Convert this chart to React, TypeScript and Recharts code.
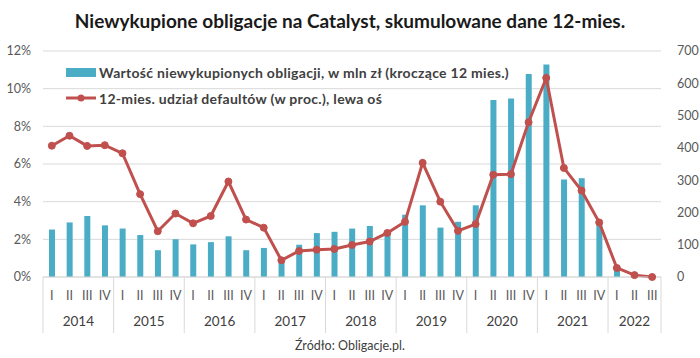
import { ComposedChart, Bar, Line, XAxis, YAxis, CartesianGrid } from 'recharts';

const years = ['2014', '2015', '2016', '2017', '2018', '2019', '2020', '2021', '2022'];
const quarterNames = ['I', 'II', 'III', 'IV'];
const quartersPerYear = [4, 4, 4, 4, 4, 4, 4, 4, 3];

// mln zł, right axis
const unpaidValue = [
    147, 169, 189, 160,
    150, 130, 83, 117,
    101, 108, 126, 83,
    90, 57, 100, 136,
    140, 150, 158, 140,
    193, 222, 153, 171,
    222, 548, 553, 629,
    658, 302, 306, 167,
    26, 1, 0,
];

// %, left axis
const defaultShare = [
    6.97, 7.5, 6.96, 7.0,
    6.57, 4.4, 2.43, 3.37,
    2.85, 3.24, 5.07, 3.05,
    2.62, 0.89, 1.38, 1.45,
    1.49, 1.7, 1.88, 2.34,
    2.93, 6.06, 4.0, 2.45,
    2.81, 5.43, 5.46, 8.22,
    10.57, 5.79, 4.59, 2.9,
    0.48, 0.1, 0,
];

const leftTicks = [0, 2, 4, 6, 8, 10, 12];
const rightTicks = [0, 100, 200, 300, 400, 500, 600, 700];

const periods: { year: string; q: number; count: number }[] = [];
years.forEach((y, i) => {
    for (let q = 0; q < quartersPerYear[i]; q++) periods.push({ year: y, q, count: quartersPerYear[i] });
});

const data = periods.map((p, i) => ({
    key: `${p.year}-${quarterNames[p.q]}`,
    value: unpaidValue[i],
    share: defaultShare[i],
}));

const LEFT_W = 43;
const RIGHT_W = 39;
const CHART_W = 700;
const band = (CHART_W - LEFT_W - RIGHT_W) / periods.length;
const FONT = 'Lato, "Open Sans", sans-serif';
const sepColor = '#d9d9d9';

const PeriodTick = (props: any) => {
    const { x, y, payload } = props;
    const idx = payload.index;
    const p = periods[idx];
    if (!p) return null;
    const yearX = p.count === 4 ? x + band / 2 : x;
    return (
        <g>
            <text x={x} y={y + 23} textAnchor="middle" fontSize={12.5} fill="#595959" fontFamily={FONT}>
                {quarterNames[p.q]}
            </text>
            {p.q === 1 && (
                <text x={yearX} y={y + 49} textAnchor="middle" fontSize={13.5} fill="#404040" fontFamily={FONT}>
                    {p.year}
                </text>
            )}
            {p.q === 0 && <line x1={x - band / 2} x2={x - band / 2} y1={y} y2={y + 56} stroke={sepColor} />}
            {idx === periods.length - 1 && <line x1={x + band / 2} x2={x + band / 2} y1={y} y2={y + 56} stroke={sepColor} />}
        </g>
    );
};

const LegendBox = () => (
    <div style={{ position: 'absolute', left: 66, top: 62, fontFamily: FONT, fontWeight: 700, fontSize: 14, letterSpacing: 0.3, color: '#404040' }}>
        <div style={{ display: 'flex', alignItems: 'center', height: 20 }}>
            <span style={{ display: 'inline-block', width: 30, height: 9, background: '#4bacc6', marginRight: 3 }} />
            Wartość niewykupionych obligacji, w mln zł (kroczące 12 mies.)
        </div>
        <div style={{ display: 'flex', alignItems: 'center', height: 20, marginTop: 6 }}>
            <svg width={30} height={10} style={{ marginRight: 3 }}>
                <line x1={0} x2={30} y1={5} y2={5} stroke="#c0504d" strokeWidth={3} />
                <circle cx={15} cy={5} r={3.5} fill="#c0504d" />
            </svg>
            12-mies. udział defaultów (w proc.), lewa oś
        </div>
    </div>
);

export default function App() {
    return (
        <div style={{ position: 'absolute', left: 0, top: 0, width: 700, height: 358, background: '#fff', fontFamily: FONT }}>
            <div style={{ position: 'absolute', top: 9, left: 0, width: 700, textAlign: 'center', fontWeight: 700, fontSize: 19, color: '#1a1a1a' }}>
                Niewykupione obligacje na Catalyst, skumulowane dane 12-mies.
            </div>
            <ComposedChart width={700} height={358} data={data} margin={{ top: 51, right: 0, bottom: 23, left: 0 }}>
                <CartesianGrid vertical={false} stroke="#d9d9d9" yAxisId="left" />
                <XAxis
                    dataKey="key"
                    interval={0}
                    height={58}
                    tickSize={0}
                    tickMargin={0}
                    axisLine={{ stroke: '#d9d9d9' }}
                    tickLine={false}
                    tick={<PeriodTick />}
                />
                <YAxis
                    yAxisId="left"
                    width={LEFT_W}
                    domain={[0, 12]}
                    ticks={leftTicks}
                    tickFormatter={(v) => `${v}%`}
                    axisLine={false}
                    tickLine={false}
                    tickMargin={6}
                    tick={{ fill: '#595959', fontSize: 12.5, fontFamily: FONT }}
                />
                <YAxis
                    yAxisId="right"
                    orientation="right"
                    width={RIGHT_W}
                    domain={[0, 700]}
                    ticks={rightTicks}
                    axisLine={false}
                    tickLine={false}
                    tickMargin={10}
                    tick={{ fill: '#595959', fontSize: 12.5, fontFamily: FONT }}
                />
                <Bar yAxisId="right" dataKey="value" fill="#4bacc6" barSize={6} isAnimationActive={false} />
                <Line
                    yAxisId="left"
                    dataKey="share"
                    type="linear"
                    stroke="#c0504d"
                    strokeWidth={3}
                    dot={{ r: 3.5, fill: '#c0504d', stroke: '#c0504d', strokeWidth: 1 }}
                    isAnimationActive={false}
                />
            </ComposedChart>
            <LegendBox />
            <div style={{ position: 'absolute', top: 338, left: 0, width: 700, textAlign: 'center', fontSize: 12.5, color: '#404040' }}>
                Źródło: Obligacje.pl.
            </div>
        </div>
    );
}
